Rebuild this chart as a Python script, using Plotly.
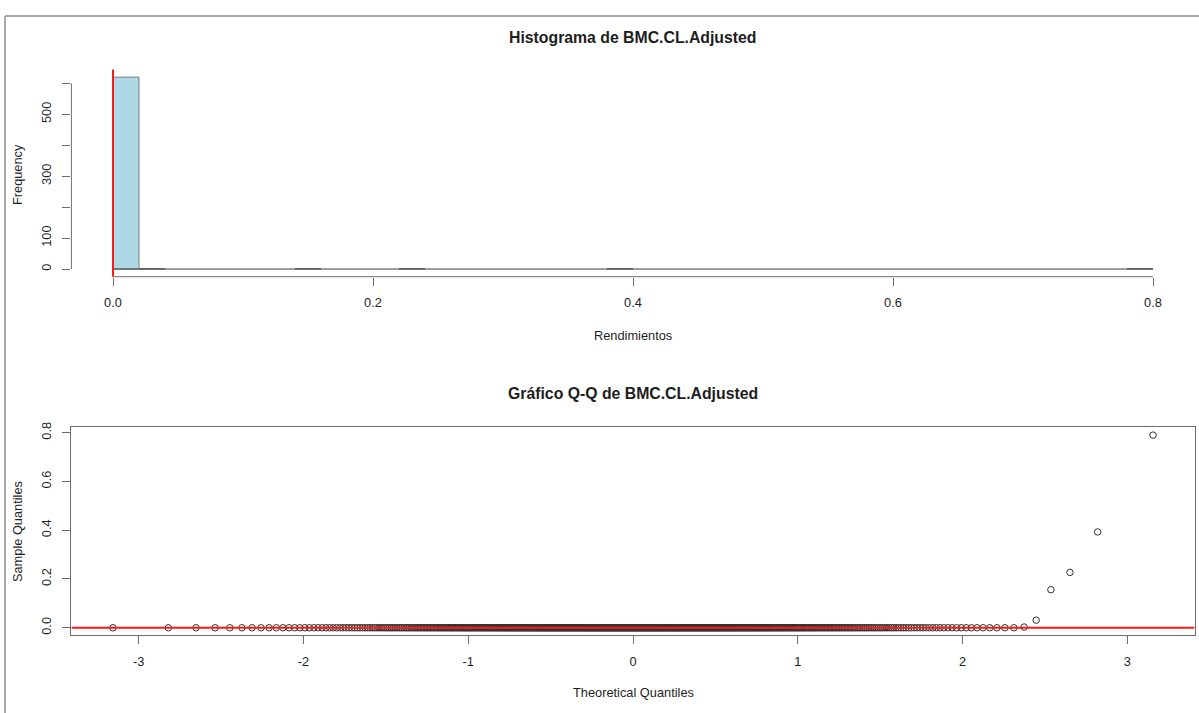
import numpy as np
import plotly.graph_objects as go
from statistics import NormalDist

# ---------------- data ----------------
zero_count = 619                                  # returns that sit at 0
nonzero_values = [0.003, 0.031, 0.156, 0.227, 0.393, 0.790]
sample = np.array([0.0] * zero_count + nonzero_values)

bin_start, bin_end, bin_size = 0.0, 0.8, 0.02

hist_ytickvals = [0, 100, 200, 300, 400, 500, 600]
hist_yticktext = ["0", "100", "", "300", "", "500", ""]
hist_xtickvals = [0.0, 0.2, 0.4, 0.6, 0.8]
hist_xticktext = ["0.0", "0.2", "0.4", "0.6", "0.8"]

qq_xtickvals = [-3, -2, -1, 0, 1, 2, 3]
qq_xticktext = ["-3", "-2", "-1", "0", "1", "2", "3"]
qq_ytickvals = [0.0, 0.2, 0.4, 0.6, 0.8]
qq_yticktext = ["0.0", "0.2", "0.4", "0.6", "0.8"]

title_hist = "Histograma de BMC.CL.Adjusted"
title_qq = "Gráfico Q-Q de BMC.CL.Adjusted"

# ---------------- derived statistics ----------------
edges = np.arange(bin_start, bin_end + bin_size / 2, bin_size)
counts, _ = np.histogram(sample, bins=edges)

def r_range(lo, hi):
    pad = (hi - lo) * 0.04
    return [lo - pad, hi + pad]

n = len(sample)
nd = NormalDist()
sample_sorted = np.sort(sample)
theo = np.array([nd.inv_cdf((i + 0.5) / n) for i in range(n)])

yq = np.quantile(sample, [0.25, 0.75])
xq = np.array([nd.inv_cdf(0.25), nd.inv_cdf(0.75)])
slope = (yq[1] - yq[0]) / (xq[1] - xq[0])
intercept = yq[0] - slope * xq[0]

hx_range = r_range(bin_start, bin_end)
hy_range = r_range(0, counts.max())
qx_range = r_range(theo.min(), theo.max())
qy_range = r_range(sample.min(), sample.max())

# ---------------- layout geometry ----------------
W, H = 1199, 713
def px(x): return x / W
def py(y): return 1 - y / H

FONT = "Liberation Sans, Arial, sans-serif"
AX = "#6e6e6e"
TXT = "#1e1e1e"
tickfont = dict(family=FONT, size=12.8, color=TXT)

fig = go.Figure()

fig.add_trace(go.Histogram(
    x=sample, xbins=dict(start=bin_start, end=bin_end, size=bin_size),
    marker=dict(color="#ADD8E6", line=dict(color="#7a7a7a", width=1)),
    xaxis="x", yaxis="y", showlegend=False, hoverinfo="skip"))

# zero-height bins drawn as baseline (as R does with bar borders)
fig.add_trace(go.Scatter(
    x=[bin_start, bin_end], y=[0, 0], mode="lines",
    line=dict(color="#3c3c3c", width=1), xaxis="x", yaxis="y",
    showlegend=False, hoverinfo="skip"))

fig.add_trace(go.Scatter(
    x=theo, y=sample_sorted, mode="markers",
    marker=dict(symbol="circle-open", size=6.5, color="#333333",
                line=dict(width=1, color="#333333")),
    xaxis="x2", yaxis="y2", showlegend=False, hoverinfo="skip"))

fig.add_trace(go.Scatter(
    x=qx_range, y=[intercept + slope * v for v in qx_range], mode="lines",
    line=dict(color="#ff1a1a", width=2), xaxis="x2", yaxis="y2",
    showlegend=False, hoverinfo="skip"))

common = dict(showgrid=False, zeroline=False, ticks="outside", ticklen=8,
              tickcolor=AX, tickwidth=1, tickfont=tickfont)

fig.update_layout(
    width=W, height=H, autosize=False,
    margin=dict(l=0, r=0, t=0, b=0),
    paper_bgcolor="white", plot_bgcolor="white",
    bargap=0,
    xaxis=dict(domain=[px(71.4), px(1194.6)], range=hx_range, anchor="y",
               tickvals=hist_xtickvals, ticktext=hist_xticktext,
               showline=False, ticklabelstandoff=6, **common),
    yaxis=dict(domain=[py(273), py(64)], range=hy_range, anchor="x",
               tickvals=hist_ytickvals, ticktext=hist_yticktext,
               tickangle=-90, showline=False, ticklabelstandoff=6, **common),
    xaxis2=dict(domain=[px(71.4), px(1194.6)], range=qx_range, anchor="y2",
                tickvals=qq_xtickvals, ticktext=qq_xticktext,
                showline=True, mirror=True, linecolor=AX, linewidth=1,
                ticklabelstandoff=6, **common),
    yaxis2=dict(domain=[py(634.8), py(425)], range=qy_range, anchor="x2",
                tickvals=qq_ytickvals, ticktext=qq_yticktext,
                tickangle=-90, showline=True, mirror=True, linecolor=AX,
                linewidth=1, ticklabelstandoff=6, **common),
)

shapes = [
    # R-style axis lines spanning only the tick range (histogram)
    dict(type="line", xref="x", yref="y domain", x0=hist_xtickvals[0],
         x1=hist_xtickvals[-1], y0=0, y1=0, line=dict(color=AX, width=1)),
    dict(type="line", xref="x domain", yref="y", x0=0, x1=0,
         y0=hist_ytickvals[0], y1=hist_ytickvals[-1], line=dict(color=AX, width=1)),
    # abline(v = 0)
    dict(type="line", xref="x", yref="y domain", x0=0, x1=0, y0=0, y1=1,
         line=dict(color="#ff1a1a", width=2)),
    # outer frame of the plot pane
    dict(type="line", xref="paper", yref="paper", x0=px(5), x1=1,
         y0=py(10), y1=py(10), line=dict(color="#a8a8a8", width=2)),
    dict(type="line", xref="paper", yref="paper", x0=px(5), x1=px(5),
         y0=py(10), y1=0, line=dict(color="#a8a8a8", width=2)),
]
fig.update_layout(shapes=shapes)

ann = [
    dict(text=f"<b>{title_hist}</b>", x=px(633), y=py(32), size=15.8),
    dict(text=f"<b>{title_qq}</b>", x=px(633), y=py(391), size=15.8),
    dict(text="Rendimientos", x=px(633), y=py(332), size=12.8),
    dict(text="Theoretical Quantiles", x=px(633), y=py(692), size=12.8),
]
annotations = []
for a in ann:
    annotations.append(dict(text=a["text"], x=a["x"], y=a["y"], xref="paper",
                            yref="paper", showarrow=False, xanchor="center",
                            yanchor="middle",
                            font=dict(family=FONT, size=a["size"], color=TXT)))
for txt, yc in [("Frequency", 170), ("Sample Quantiles", 530)]:
    annotations.append(dict(text=txt, x=px(17.5), y=py(yc), xref="paper",
                            yref="paper", showarrow=False, textangle=-90,
                            xanchor="center", yanchor="middle",
                            font=dict(family=FONT, size=12.8, color=TXT)))
fig.update_layout(annotations=annotations)

post = ("document.documentElement.style.margin='0';"
        "document.body.style.margin='0';document.body.style.padding='0';"
        "document.body.style.overflow='hidden';"
        "var gd=document.querySelector('.plotly-graph-div');"
        "gd.style.position='absolute';gd.style.left='0px';gd.style.top='0px';")
fig.write_html("out.html", post_script=post,
               config={"displayModeBar": False, "staticPlot": True})
